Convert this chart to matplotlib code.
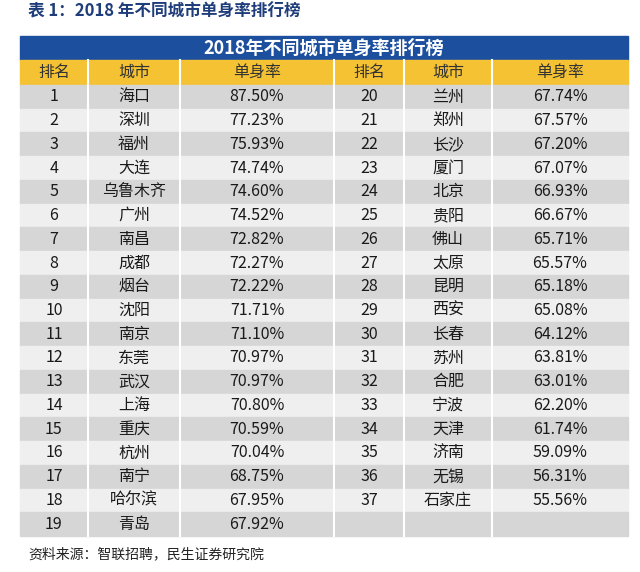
import matplotlib
matplotlib.use("Agg")
import matplotlib.pyplot as plt
from matplotlib.patches import Rectangle

plt.rcParams["font.family"] = ["Noto Sans CJK SC"]

caption = "表 1：2018 年不同城市单身率排行榜"
table_title = "2018年不同城市单身率排行榜"
headers = ["排名", "城市", "单身率", "排名", "城市", "单身率"]
ranks = list(range(1, 38))
cities = ["海口", "深圳", "福州", "大连", "乌鲁木齐", "广州", "南昌", "成都", "烟台", "沈阳",
          "南京", "东莞", "武汉", "上海", "重庆", "杭州", "南宁", "哈尔滨", "青岛",
          "兰州", "郑州", "长沙", "厦门", "北京", "贵阳", "佛山", "太原", "昆明", "西安",
          "长春", "苏州", "合肥", "宁波", "天津", "济南", "无锡", "石家庄"]
rates = [87.50, 77.23, 75.93, 74.74, 74.60, 74.52, 72.82, 72.27, 72.22, 71.71,
         71.10, 70.97, 70.97, 70.80, 70.59, 70.04, 68.75, 67.95, 67.92,
         67.74, 67.57, 67.20, 67.07, 66.93, 66.67, 65.71, 65.57, 65.18, 65.08,
         64.12, 63.81, 63.01, 62.20, 61.74, 59.09, 56.31, 55.56]
source = "资料来源：智联招聘，民生证券研究院"

W, H = 640, 572
fig = plt.figure(figsize=(W / 100, H / 100), dpi=100)
ax = fig.add_axes([0, 0, 1, 1])
ax.set_xlim(0, W)
ax.set_ylim(H, 0)
ax.axis("off")

cols = [20, 88, 180, 334, 404, 492, 628]
title_top, head_top, body_top, body_bot = 36, 60, 85, 536
nrows = 19
rh = (body_bot - body_top) / nrows

ax.text(28, 12, caption, fontsize=12, fontweight="bold", color="#1f3d7a", va="center")
ax.add_patch(Rectangle((cols[0], title_top), cols[-1] - cols[0], head_top - title_top,
                       color="#1d4f9f"))
ax.text((cols[0] + cols[-1]) / 2, (title_top + head_top) / 2, table_title, color="white",
        fontsize=13, fontweight="bold", ha="center", va="center")
ax.add_patch(Rectangle((cols[0], head_top), cols[-1] - cols[0], body_top - head_top,
                       color="#f4c232"))
for i, h in enumerate(headers):
    ax.text((cols[i] + cols[i + 1]) / 2, (head_top + body_top) / 2, h, fontsize=11.5,
            color="#333333", ha="center", va="center")

for r in range(nrows):
    y = body_top + r * rh
    ax.add_patch(Rectangle((cols[0], y), cols[-1] - cols[0], rh,
                           color="#d6d6d6" if r % 2 == 0 else "#efefef"))
for x in cols[1:-1]:
    ax.plot([x, x], [head_top, body_bot], color="white", lw=1.5)

for k, (rk, c, v) in enumerate(zip(ranks, cities, rates)):
    half = 0 if k < nrows else 3
    r = k if k < nrows else k - nrows
    yc = body_top + (r + 0.5) * rh
    for j, t in enumerate([str(rk), c, f"{v:.2f}%"]):
        ax.text((cols[half + j] + cols[half + j + 1]) / 2, yc, t, fontsize=11.5,
                color="#1a1a1a", ha="center", va="center")

ax.text(28, 554, source, fontsize=10, color="#222222", va="center")
fig.savefig("out.png", dpi=100)
